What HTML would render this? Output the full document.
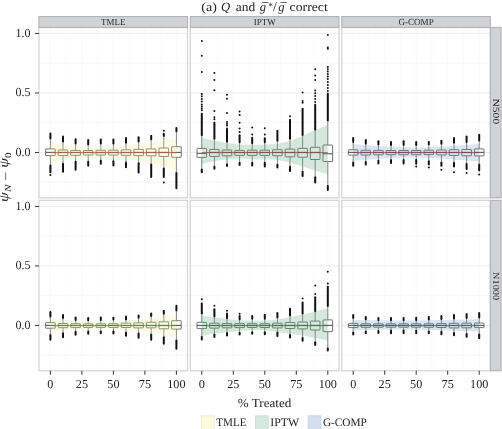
<!DOCTYPE html>
<html><head><meta charset="utf-8"><style>
html,body{margin:0;padding:0;background:#fff;}
body{width:502px;height:429px;overflow:hidden;position:relative;}
svg text{font-family:"Liberation Serif",serif;text-rendering:geometricPrecision;}
svg{will-change:transform;filter:blur(0.3px);}
</style></head><body>
<svg width="502" height="429" viewBox="0 0 502 429" style="position:absolute;left:0;top:0">
<rect x="0" y="0" width="502" height="429" fill="#fff"/>
<g>
<line x1="66.15" x2="66.15" y1="27.45" y2="197.85" stroke="#fafafa" stroke-width="0.8"/>
<line x1="97.65" x2="97.65" y1="27.45" y2="197.85" stroke="#fafafa" stroke-width="0.8"/>
<line x1="129.15" x2="129.15" y1="27.45" y2="197.85" stroke="#fafafa" stroke-width="0.8"/>
<line x1="160.65" x2="160.65" y1="27.45" y2="197.85" stroke="#fafafa" stroke-width="0.8"/>
<line x1="50.4" x2="50.4" y1="27.45" y2="197.85" stroke="#f7f7f7" stroke-width="0.8"/>
<line x1="81.9" x2="81.9" y1="27.45" y2="197.85" stroke="#f7f7f7" stroke-width="0.8"/>
<line x1="113.4" x2="113.4" y1="27.45" y2="197.85" stroke="#f7f7f7" stroke-width="0.8"/>
<line x1="144.9" x2="144.9" y1="27.45" y2="197.85" stroke="#f7f7f7" stroke-width="0.8"/>
<line x1="176.4" x2="176.4" y1="27.45" y2="197.85" stroke="#f7f7f7" stroke-width="0.8"/>
<line x1="38.95" x2="187.55" y1="63.2" y2="63.2" stroke="#f4f4f4" stroke-width="0.8"/>
<line x1="38.95" x2="187.55" y1="122.7" y2="122.7" stroke="#f4f4f4" stroke-width="0.8"/>
<line x1="38.95" x2="187.55" y1="182.2" y2="182.2" stroke="#f4f4f4" stroke-width="0.8"/>
<line x1="38.95" x2="187.55" y1="33.45" y2="33.45" stroke="#ebebeb" stroke-width="0.9"/>
<line x1="38.95" x2="187.55" y1="92.95" y2="92.95" stroke="#ebebeb" stroke-width="0.9"/>
<line x1="38.95" x2="187.55" y1="152.45" y2="152.45" stroke="#ebebeb" stroke-width="0.9"/>
</g>
<g>
<line x1="217.55" x2="217.55" y1="27.45" y2="197.85" stroke="#fafafa" stroke-width="0.8"/>
<line x1="249.05" x2="249.05" y1="27.45" y2="197.85" stroke="#fafafa" stroke-width="0.8"/>
<line x1="280.55" x2="280.55" y1="27.45" y2="197.85" stroke="#fafafa" stroke-width="0.8"/>
<line x1="312.05" x2="312.05" y1="27.45" y2="197.85" stroke="#fafafa" stroke-width="0.8"/>
<line x1="201.8" x2="201.8" y1="27.45" y2="197.85" stroke="#f7f7f7" stroke-width="0.8"/>
<line x1="233.3" x2="233.3" y1="27.45" y2="197.85" stroke="#f7f7f7" stroke-width="0.8"/>
<line x1="264.8" x2="264.8" y1="27.45" y2="197.85" stroke="#f7f7f7" stroke-width="0.8"/>
<line x1="296.3" x2="296.3" y1="27.45" y2="197.85" stroke="#f7f7f7" stroke-width="0.8"/>
<line x1="327.8" x2="327.8" y1="27.45" y2="197.85" stroke="#f7f7f7" stroke-width="0.8"/>
<line x1="190.35" x2="338.95" y1="63.2" y2="63.2" stroke="#f4f4f4" stroke-width="0.8"/>
<line x1="190.35" x2="338.95" y1="122.7" y2="122.7" stroke="#f4f4f4" stroke-width="0.8"/>
<line x1="190.35" x2="338.95" y1="182.2" y2="182.2" stroke="#f4f4f4" stroke-width="0.8"/>
<line x1="190.35" x2="338.95" y1="33.45" y2="33.45" stroke="#ebebeb" stroke-width="0.9"/>
<line x1="190.35" x2="338.95" y1="92.95" y2="92.95" stroke="#ebebeb" stroke-width="0.9"/>
<line x1="190.35" x2="338.95" y1="152.45" y2="152.45" stroke="#ebebeb" stroke-width="0.9"/>
</g>
<g>
<line x1="368.95" x2="368.95" y1="27.45" y2="197.85" stroke="#fafafa" stroke-width="0.8"/>
<line x1="400.45" x2="400.45" y1="27.45" y2="197.85" stroke="#fafafa" stroke-width="0.8"/>
<line x1="431.95" x2="431.95" y1="27.45" y2="197.85" stroke="#fafafa" stroke-width="0.8"/>
<line x1="463.45" x2="463.45" y1="27.45" y2="197.85" stroke="#fafafa" stroke-width="0.8"/>
<line x1="353.2" x2="353.2" y1="27.45" y2="197.85" stroke="#f7f7f7" stroke-width="0.8"/>
<line x1="384.7" x2="384.7" y1="27.45" y2="197.85" stroke="#f7f7f7" stroke-width="0.8"/>
<line x1="416.2" x2="416.2" y1="27.45" y2="197.85" stroke="#f7f7f7" stroke-width="0.8"/>
<line x1="447.7" x2="447.7" y1="27.45" y2="197.85" stroke="#f7f7f7" stroke-width="0.8"/>
<line x1="479.2" x2="479.2" y1="27.45" y2="197.85" stroke="#f7f7f7" stroke-width="0.8"/>
<line x1="341.75" x2="490.35" y1="63.2" y2="63.2" stroke="#f4f4f4" stroke-width="0.8"/>
<line x1="341.75" x2="490.35" y1="122.7" y2="122.7" stroke="#f4f4f4" stroke-width="0.8"/>
<line x1="341.75" x2="490.35" y1="182.2" y2="182.2" stroke="#f4f4f4" stroke-width="0.8"/>
<line x1="341.75" x2="490.35" y1="33.45" y2="33.45" stroke="#ebebeb" stroke-width="0.9"/>
<line x1="341.75" x2="490.35" y1="92.95" y2="92.95" stroke="#ebebeb" stroke-width="0.9"/>
<line x1="341.75" x2="490.35" y1="152.45" y2="152.45" stroke="#ebebeb" stroke-width="0.9"/>
</g>
<g>
<line x1="66.15" x2="66.15" y1="200.35" y2="370.75" stroke="#fafafa" stroke-width="0.8"/>
<line x1="97.65" x2="97.65" y1="200.35" y2="370.75" stroke="#fafafa" stroke-width="0.8"/>
<line x1="129.15" x2="129.15" y1="200.35" y2="370.75" stroke="#fafafa" stroke-width="0.8"/>
<line x1="160.65" x2="160.65" y1="200.35" y2="370.75" stroke="#fafafa" stroke-width="0.8"/>
<line x1="50.4" x2="50.4" y1="200.35" y2="370.75" stroke="#f7f7f7" stroke-width="0.8"/>
<line x1="81.9" x2="81.9" y1="200.35" y2="370.75" stroke="#f7f7f7" stroke-width="0.8"/>
<line x1="113.4" x2="113.4" y1="200.35" y2="370.75" stroke="#f7f7f7" stroke-width="0.8"/>
<line x1="144.9" x2="144.9" y1="200.35" y2="370.75" stroke="#f7f7f7" stroke-width="0.8"/>
<line x1="176.4" x2="176.4" y1="200.35" y2="370.75" stroke="#f7f7f7" stroke-width="0.8"/>
<line x1="38.95" x2="187.55" y1="236.2" y2="236.2" stroke="#f4f4f4" stroke-width="0.8"/>
<line x1="38.95" x2="187.55" y1="295.7" y2="295.7" stroke="#f4f4f4" stroke-width="0.8"/>
<line x1="38.95" x2="187.55" y1="355.2" y2="355.2" stroke="#f4f4f4" stroke-width="0.8"/>
<line x1="38.95" x2="187.55" y1="206.45" y2="206.45" stroke="#ebebeb" stroke-width="0.9"/>
<line x1="38.95" x2="187.55" y1="265.95" y2="265.95" stroke="#ebebeb" stroke-width="0.9"/>
<line x1="38.95" x2="187.55" y1="325.45" y2="325.45" stroke="#ebebeb" stroke-width="0.9"/>
</g>
<g>
<line x1="217.55" x2="217.55" y1="200.35" y2="370.75" stroke="#fafafa" stroke-width="0.8"/>
<line x1="249.05" x2="249.05" y1="200.35" y2="370.75" stroke="#fafafa" stroke-width="0.8"/>
<line x1="280.55" x2="280.55" y1="200.35" y2="370.75" stroke="#fafafa" stroke-width="0.8"/>
<line x1="312.05" x2="312.05" y1="200.35" y2="370.75" stroke="#fafafa" stroke-width="0.8"/>
<line x1="201.8" x2="201.8" y1="200.35" y2="370.75" stroke="#f7f7f7" stroke-width="0.8"/>
<line x1="233.3" x2="233.3" y1="200.35" y2="370.75" stroke="#f7f7f7" stroke-width="0.8"/>
<line x1="264.8" x2="264.8" y1="200.35" y2="370.75" stroke="#f7f7f7" stroke-width="0.8"/>
<line x1="296.3" x2="296.3" y1="200.35" y2="370.75" stroke="#f7f7f7" stroke-width="0.8"/>
<line x1="327.8" x2="327.8" y1="200.35" y2="370.75" stroke="#f7f7f7" stroke-width="0.8"/>
<line x1="190.35" x2="338.95" y1="236.2" y2="236.2" stroke="#f4f4f4" stroke-width="0.8"/>
<line x1="190.35" x2="338.95" y1="295.7" y2="295.7" stroke="#f4f4f4" stroke-width="0.8"/>
<line x1="190.35" x2="338.95" y1="355.2" y2="355.2" stroke="#f4f4f4" stroke-width="0.8"/>
<line x1="190.35" x2="338.95" y1="206.45" y2="206.45" stroke="#ebebeb" stroke-width="0.9"/>
<line x1="190.35" x2="338.95" y1="265.95" y2="265.95" stroke="#ebebeb" stroke-width="0.9"/>
<line x1="190.35" x2="338.95" y1="325.45" y2="325.45" stroke="#ebebeb" stroke-width="0.9"/>
</g>
<g>
<line x1="368.95" x2="368.95" y1="200.35" y2="370.75" stroke="#fafafa" stroke-width="0.8"/>
<line x1="400.45" x2="400.45" y1="200.35" y2="370.75" stroke="#fafafa" stroke-width="0.8"/>
<line x1="431.95" x2="431.95" y1="200.35" y2="370.75" stroke="#fafafa" stroke-width="0.8"/>
<line x1="463.45" x2="463.45" y1="200.35" y2="370.75" stroke="#fafafa" stroke-width="0.8"/>
<line x1="353.2" x2="353.2" y1="200.35" y2="370.75" stroke="#f7f7f7" stroke-width="0.8"/>
<line x1="384.7" x2="384.7" y1="200.35" y2="370.75" stroke="#f7f7f7" stroke-width="0.8"/>
<line x1="416.2" x2="416.2" y1="200.35" y2="370.75" stroke="#f7f7f7" stroke-width="0.8"/>
<line x1="447.7" x2="447.7" y1="200.35" y2="370.75" stroke="#f7f7f7" stroke-width="0.8"/>
<line x1="479.2" x2="479.2" y1="200.35" y2="370.75" stroke="#f7f7f7" stroke-width="0.8"/>
<line x1="341.75" x2="490.35" y1="236.2" y2="236.2" stroke="#f4f4f4" stroke-width="0.8"/>
<line x1="341.75" x2="490.35" y1="295.7" y2="295.7" stroke="#f4f4f4" stroke-width="0.8"/>
<line x1="341.75" x2="490.35" y1="355.2" y2="355.2" stroke="#f4f4f4" stroke-width="0.8"/>
<line x1="341.75" x2="490.35" y1="206.45" y2="206.45" stroke="#ebebeb" stroke-width="0.9"/>
<line x1="341.75" x2="490.35" y1="265.95" y2="265.95" stroke="#ebebeb" stroke-width="0.9"/>
<line x1="341.75" x2="490.35" y1="325.45" y2="325.45" stroke="#ebebeb" stroke-width="0.9"/>
</g>
<g>
<line x1="50.4" x2="50.4" y1="139.3" y2="148.9" stroke="#777" stroke-width="0.9"/>
<line x1="50.4" x2="50.4" y1="155.6" y2="164.8" stroke="#777" stroke-width="0.9"/>
<rect x="45.6" y="148.9" width="9.6" height="6.7" rx="0.3" fill="#fff" stroke="#6e6e6e" stroke-width="0.95"/>
<line x1="45.6" x2="55.2" y1="152.35" y2="152.35" stroke="#444" stroke-width="1"/>
<line x1="50.4" x2="50.4" y1="133.5" y2="138.5" stroke="#111" stroke-width="2.0" stroke-linecap="round"/>
<line x1="50.4" x2="50.4" y1="165.6" y2="172.2" stroke="#111" stroke-width="2.0" stroke-linecap="round"/>
<circle cx="50.4" cy="175" r="1.0" fill="#111"/>
<line x1="63" x2="63" y1="142.2" y2="150" stroke="#777" stroke-width="0.9"/>
<line x1="63" x2="63" y1="155.6" y2="163" stroke="#777" stroke-width="0.9"/>
<rect x="58.2" y="150" width="9.6" height="5.6" rx="0.3" fill="#fff" stroke="#6e6e6e" stroke-width="0.95"/>
<line x1="58.2" x2="67.8" y1="152.35" y2="152.35" stroke="#444" stroke-width="1"/>
<line x1="63" x2="63" y1="136.6" y2="141.4" stroke="#111" stroke-width="2.0" stroke-linecap="round"/>
<line x1="63" x2="63" y1="163.8" y2="171.7" stroke="#111" stroke-width="2.0" stroke-linecap="round"/>
<line x1="75.6" x2="75.6" y1="144.4" y2="150.4" stroke="#777" stroke-width="0.9"/>
<line x1="75.6" x2="75.6" y1="155.3" y2="160.9" stroke="#777" stroke-width="0.9"/>
<rect x="70.8" y="150.4" width="9.6" height="4.9" rx="0.3" fill="#fff" stroke="#6e6e6e" stroke-width="0.95"/>
<line x1="70.8" x2="80.4" y1="152.35" y2="152.35" stroke="#444" stroke-width="1"/>
<line x1="75.6" x2="75.6" y1="139.3" y2="143.6" stroke="#111" stroke-width="2.0" stroke-linecap="round"/>
<line x1="75.6" x2="75.6" y1="161.7" y2="169.8" stroke="#111" stroke-width="2.0" stroke-linecap="round"/>
<line x1="88.2" x2="88.2" y1="145.2" y2="150.5" stroke="#777" stroke-width="0.9"/>
<line x1="88.2" x2="88.2" y1="155" y2="160.9" stroke="#777" stroke-width="0.9"/>
<rect x="83.4" y="150.5" width="9.6" height="4.5" rx="0.3" fill="#fff" stroke="#6e6e6e" stroke-width="0.95"/>
<line x1="83.4" x2="93" y1="152.35" y2="152.35" stroke="#444" stroke-width="1"/>
<line x1="88.2" x2="88.2" y1="140" y2="144.4" stroke="#111" stroke-width="2.0" stroke-linecap="round"/>
<line x1="88.2" x2="88.2" y1="161.7" y2="165.7" stroke="#111" stroke-width="2.0" stroke-linecap="round"/>
<line x1="100.8" x2="100.8" y1="144.2" y2="150.3" stroke="#777" stroke-width="0.9"/>
<line x1="100.8" x2="100.8" y1="155" y2="160" stroke="#777" stroke-width="0.9"/>
<rect x="96" y="150.3" width="9.6" height="4.7" rx="0.3" fill="#fff" stroke="#6e6e6e" stroke-width="0.95"/>
<line x1="96" x2="105.6" y1="152.35" y2="152.35" stroke="#444" stroke-width="1"/>
<line x1="100.8" x2="100.8" y1="139.6" y2="143.4" stroke="#111" stroke-width="2.0" stroke-linecap="round"/>
<line x1="100.8" x2="100.8" y1="160.8" y2="163.8" stroke="#111" stroke-width="2.0" stroke-linecap="round"/>
<line x1="113.4" x2="113.4" y1="144.2" y2="150.2" stroke="#777" stroke-width="0.9"/>
<line x1="113.4" x2="113.4" y1="155.1" y2="160.5" stroke="#777" stroke-width="0.9"/>
<rect x="108.6" y="150.2" width="9.6" height="4.9" rx="0.3" fill="#fff" stroke="#6e6e6e" stroke-width="0.95"/>
<line x1="108.6" x2="118.2" y1="152.35" y2="152.35" stroke="#444" stroke-width="1"/>
<line x1="113.4" x2="113.4" y1="139.6" y2="143.4" stroke="#111" stroke-width="2.0" stroke-linecap="round"/>
<line x1="113.4" x2="113.4" y1="161.3" y2="165.6" stroke="#111" stroke-width="2.0" stroke-linecap="round"/>
<line x1="126" x2="126" y1="143.5" y2="149.8" stroke="#777" stroke-width="0.9"/>
<line x1="126" x2="126" y1="155.3" y2="161.8" stroke="#777" stroke-width="0.9"/>
<rect x="121.2" y="149.8" width="9.6" height="5.5" rx="0.3" fill="#fff" stroke="#6e6e6e" stroke-width="0.95"/>
<line x1="121.2" x2="130.8" y1="152.35" y2="152.35" stroke="#444" stroke-width="1"/>
<line x1="126" x2="126" y1="138" y2="142.7" stroke="#111" stroke-width="2.0" stroke-linecap="round"/>
<line x1="126" x2="126" y1="162.6" y2="167.3" stroke="#111" stroke-width="2.0" stroke-linecap="round"/>
<line x1="138.6" x2="138.6" y1="142.4" y2="149.4" stroke="#777" stroke-width="0.9"/>
<line x1="138.6" x2="138.6" y1="155.6" y2="162.5" stroke="#777" stroke-width="0.9"/>
<rect x="133.8" y="149.4" width="9.6" height="6.2" rx="0.3" fill="#fff" stroke="#6e6e6e" stroke-width="0.95"/>
<line x1="133.8" x2="143.4" y1="152.35" y2="152.35" stroke="#444" stroke-width="1"/>
<line x1="138.6" x2="138.6" y1="137.2" y2="141.6" stroke="#111" stroke-width="2.0" stroke-linecap="round"/>
<line x1="138.6" x2="138.6" y1="163.3" y2="172.4" stroke="#111" stroke-width="2.0" stroke-linecap="round"/>
<line x1="151.2" x2="151.2" y1="140.1" y2="148.9" stroke="#777" stroke-width="0.9"/>
<line x1="151.2" x2="151.2" y1="155.8" y2="163.8" stroke="#777" stroke-width="0.9"/>
<rect x="146.4" y="148.9" width="9.6" height="6.9" rx="0.3" fill="#fff" stroke="#6e6e6e" stroke-width="0.95"/>
<line x1="146.4" x2="156" y1="152.35" y2="152.35" stroke="#444" stroke-width="1"/>
<line x1="151.2" x2="151.2" y1="135.7" y2="139.3" stroke="#111" stroke-width="2.0" stroke-linecap="round"/>
<line x1="151.2" x2="151.2" y1="164.6" y2="177" stroke="#111" stroke-width="2.0" stroke-linecap="round"/>
<line x1="163.8" x2="163.8" y1="136.8" y2="148" stroke="#777" stroke-width="0.9"/>
<line x1="163.8" x2="163.8" y1="156.4" y2="167.6" stroke="#777" stroke-width="0.9"/>
<rect x="159" y="148" width="9.6" height="8.4" rx="0.3" fill="#fff" stroke="#6e6e6e" stroke-width="0.95"/>
<line x1="159" x2="168.6" y1="152.35" y2="152.35" stroke="#444" stroke-width="1"/>
<line x1="163.8" x2="163.8" y1="133.8" y2="136" stroke="#111" stroke-width="2.0" stroke-linecap="round"/>
<line x1="163.8" x2="163.8" y1="168.4" y2="177" stroke="#111" stroke-width="2.0" stroke-linecap="round"/>
<circle cx="163.8" cy="130.8" r="1.0" fill="#111"/>
<circle cx="163.8" cy="182.5" r="1.0" fill="#111"/>
<line x1="176.4" x2="176.4" y1="132.1" y2="146.7" stroke="#777" stroke-width="0.9"/>
<line x1="176.4" x2="176.4" y1="157.3" y2="172.2" stroke="#777" stroke-width="0.9"/>
<rect x="171.6" y="146.7" width="9.6" height="10.6" rx="0.3" fill="#fff" stroke="#6e6e6e" stroke-width="0.95"/>
<line x1="171.6" x2="181.2" y1="152.35" y2="152.35" stroke="#444" stroke-width="1"/>
<line x1="176.4" x2="176.4" y1="127.9" y2="131.3" stroke="#111" stroke-width="2.0" stroke-linecap="round"/>
<line x1="176.4" x2="176.4" y1="173" y2="188.2" stroke="#111" stroke-width="2.0" stroke-linecap="round"/>
<line x1="50.4" x2="176.4" y1="152.65" y2="152.65" stroke="#a82a22" stroke-width="0.8"/>
<polygon points="50.4,143 63,145 75.6,146.2 88.2,147 100.8,147.15 113.4,147.15 126,146.15 138.6,143.85 151.2,142.1 163.8,140.45 176.4,138.9 176.4,169.8 163.8,166.45 151.2,163.5 138.6,161.35 126,159.05 113.4,158.05 100.8,158.05 88.2,158.1 75.6,158.9 63,159.9 50.4,161.9" fill="#f3ef87" fill-opacity="0.22"/>
</g>
<g>
<line x1="201.8" x2="201.8" y1="136" y2="148.4" stroke="#777" stroke-width="0.9"/>
<line x1="201.8" x2="201.8" y1="157.4" y2="168.6" stroke="#777" stroke-width="0.9"/>
<rect x="197" y="148.4" width="9.6" height="9" rx="0.3" fill="#fff" stroke="#6e6e6e" stroke-width="0.95"/>
<line x1="197" x2="206.6" y1="153.3" y2="153.3" stroke="#444" stroke-width="1"/>
<line x1="201.8" x2="201.8" y1="113.8" y2="135.2" stroke="#111" stroke-width="2.0" stroke-linecap="round"/>
<line x1="201.8" x2="201.8" y1="169.4" y2="172.2" stroke="#111" stroke-width="2.0" stroke-linecap="round"/>
<circle cx="201.8" cy="40.9" r="1.0" fill="#111"/>
<circle cx="201.8" cy="55.7" r="1.0" fill="#111"/>
<circle cx="201.8" cy="72.1" r="1.0" fill="#111"/>
<circle cx="201.8" cy="94.1" r="1.0" fill="#111"/>
<circle cx="201.8" cy="96.2" r="1.0" fill="#111"/>
<circle cx="201.8" cy="99" r="1.0" fill="#111"/>
<circle cx="201.8" cy="101.5" r="1.0" fill="#111"/>
<circle cx="201.8" cy="104.6" r="1.0" fill="#111"/>
<circle cx="201.8" cy="106.5" r="1.0" fill="#111"/>
<circle cx="201.8" cy="108.4" r="1.0" fill="#111"/>
<circle cx="201.8" cy="110.2" r="1.0" fill="#111"/>
<line x1="214.4" x2="214.4" y1="139.5" y2="149.4" stroke="#777" stroke-width="0.9"/>
<line x1="214.4" x2="214.4" y1="156.4" y2="165.9" stroke="#777" stroke-width="0.9"/>
<rect x="209.6" y="149.4" width="9.6" height="7" rx="0.3" fill="#fff" stroke="#6e6e6e" stroke-width="0.95"/>
<line x1="209.6" x2="219.2" y1="152.35" y2="152.35" stroke="#444" stroke-width="1"/>
<line x1="214.4" x2="214.4" y1="122.8" y2="138.7" stroke="#111" stroke-width="2.0" stroke-linecap="round"/>
<line x1="214.4" x2="214.4" y1="166.7" y2="168.7" stroke="#111" stroke-width="2.0" stroke-linecap="round"/>
<circle cx="214.4" cy="72.9" r="1.0" fill="#111"/>
<circle cx="214.4" cy="80" r="1.0" fill="#111"/>
<circle cx="214.4" cy="90.3" r="1.0" fill="#111"/>
<circle cx="214.4" cy="110.9" r="1.0" fill="#111"/>
<circle cx="214.4" cy="117.2" r="1.0" fill="#111"/>
<circle cx="214.4" cy="119.3" r="1.0" fill="#111"/>
<line x1="227" x2="227" y1="142.5" y2="150" stroke="#777" stroke-width="0.9"/>
<line x1="227" x2="227" y1="155.8" y2="163.4" stroke="#777" stroke-width="0.9"/>
<rect x="222.2" y="150" width="9.6" height="5.8" rx="0.3" fill="#fff" stroke="#6e6e6e" stroke-width="0.95"/>
<line x1="222.2" x2="231.8" y1="152.35" y2="152.35" stroke="#444" stroke-width="1"/>
<line x1="227" x2="227" y1="128.5" y2="141.7" stroke="#111" stroke-width="2.0" stroke-linecap="round"/>
<line x1="227" x2="227" y1="164.2" y2="166.1" stroke="#111" stroke-width="2.0" stroke-linecap="round"/>
<circle cx="227" cy="94.8" r="1.0" fill="#111"/>
<circle cx="227" cy="98.7" r="1.0" fill="#111"/>
<circle cx="227" cy="113" r="1.0" fill="#111"/>
<circle cx="227" cy="122" r="1.0" fill="#111"/>
<circle cx="227" cy="124" r="1.0" fill="#111"/>
<circle cx="227" cy="125.6" r="1.0" fill="#111"/>
<line x1="239.6" x2="239.6" y1="143" y2="150.4" stroke="#777" stroke-width="0.9"/>
<line x1="239.6" x2="239.6" y1="155.4" y2="161.9" stroke="#777" stroke-width="0.9"/>
<rect x="234.8" y="150.4" width="9.6" height="5" rx="0.3" fill="#fff" stroke="#6e6e6e" stroke-width="0.95"/>
<line x1="234.8" x2="244.4" y1="152.35" y2="152.35" stroke="#444" stroke-width="1"/>
<line x1="239.6" x2="239.6" y1="135.3" y2="142.2" stroke="#111" stroke-width="2.0" stroke-linecap="round"/>
<line x1="239.6" x2="239.6" y1="162.7" y2="164.9" stroke="#111" stroke-width="2.0" stroke-linecap="round"/>
<circle cx="239.6" cy="111.6" r="1.0" fill="#111"/>
<circle cx="239.6" cy="115.1" r="1.0" fill="#111"/>
<circle cx="239.6" cy="122.8" r="1.0" fill="#111"/>
<circle cx="239.6" cy="128.5" r="1.0" fill="#111"/>
<circle cx="239.6" cy="132" r="1.0" fill="#111"/>
<line x1="252.2" x2="252.2" y1="144" y2="150.2" stroke="#777" stroke-width="0.9"/>
<line x1="252.2" x2="252.2" y1="155.4" y2="161.9" stroke="#777" stroke-width="0.9"/>
<rect x="247.4" y="150.2" width="9.6" height="5.2" rx="0.3" fill="#fff" stroke="#6e6e6e" stroke-width="0.95"/>
<line x1="247.4" x2="257" y1="152.35" y2="152.35" stroke="#444" stroke-width="1"/>
<line x1="252.2" x2="252.2" y1="137.8" y2="143.2" stroke="#111" stroke-width="2.0" stroke-linecap="round"/>
<line x1="252.2" x2="252.2" y1="162.7" y2="165.6" stroke="#111" stroke-width="2.0" stroke-linecap="round"/>
<circle cx="252.2" cy="127.5" r="1.0" fill="#111"/>
<circle cx="252.2" cy="134.5" r="1.0" fill="#111"/>
<line x1="264.8" x2="264.8" y1="143" y2="150.2" stroke="#777" stroke-width="0.9"/>
<line x1="264.8" x2="264.8" y1="155.4" y2="161.9" stroke="#777" stroke-width="0.9"/>
<rect x="260" y="150.2" width="9.6" height="5.2" rx="0.3" fill="#fff" stroke="#6e6e6e" stroke-width="0.95"/>
<line x1="260" x2="269.6" y1="152.35" y2="152.35" stroke="#444" stroke-width="1"/>
<line x1="264.8" x2="264.8" y1="138.3" y2="142.2" stroke="#111" stroke-width="2.0" stroke-linecap="round"/>
<line x1="264.8" x2="264.8" y1="162.7" y2="166.6" stroke="#111" stroke-width="2.0" stroke-linecap="round"/>
<circle cx="264.8" cy="128.2" r="1.0" fill="#111"/>
<circle cx="264.8" cy="134.5" r="1.0" fill="#111"/>
<line x1="277.4" x2="277.4" y1="141.5" y2="149.7" stroke="#777" stroke-width="0.9"/>
<line x1="277.4" x2="277.4" y1="155.7" y2="163.9" stroke="#777" stroke-width="0.9"/>
<rect x="272.6" y="149.7" width="9.6" height="6" rx="0.3" fill="#fff" stroke="#6e6e6e" stroke-width="0.95"/>
<line x1="272.6" x2="282.2" y1="152.35" y2="152.35" stroke="#444" stroke-width="1"/>
<line x1="277.4" x2="277.4" y1="130.7" y2="140.7" stroke="#111" stroke-width="2.0" stroke-linecap="round"/>
<line x1="277.4" x2="277.4" y1="164.7" y2="167.5" stroke="#111" stroke-width="2.0" stroke-linecap="round"/>
<line x1="290" x2="290" y1="139.5" y2="149.1" stroke="#777" stroke-width="0.9"/>
<line x1="290" x2="290" y1="156.8" y2="165.9" stroke="#777" stroke-width="0.9"/>
<rect x="285.2" y="149.1" width="9.6" height="7.7" rx="0.3" fill="#fff" stroke="#6e6e6e" stroke-width="0.95"/>
<line x1="285.2" x2="294.8" y1="152.35" y2="152.35" stroke="#444" stroke-width="1"/>
<line x1="290" x2="290" y1="119.8" y2="138.7" stroke="#111" stroke-width="2.0" stroke-linecap="round"/>
<line x1="290" x2="290" y1="166.7" y2="171.1" stroke="#111" stroke-width="2.0" stroke-linecap="round"/>
<circle cx="290" cy="116.2" r="1.0" fill="#111"/>
<line x1="302.6" x2="302.6" y1="135.9" y2="148.4" stroke="#777" stroke-width="0.9"/>
<line x1="302.6" x2="302.6" y1="157.2" y2="170.9" stroke="#777" stroke-width="0.9"/>
<rect x="297.8" y="148.4" width="9.6" height="8.8" rx="0.3" fill="#fff" stroke="#6e6e6e" stroke-width="0.95"/>
<line x1="297.8" x2="307.4" y1="152.35" y2="152.35" stroke="#444" stroke-width="1"/>
<line x1="302.6" x2="302.6" y1="108.8" y2="135.1" stroke="#111" stroke-width="2.0" stroke-linecap="round"/>
<line x1="302.6" x2="302.6" y1="171.7" y2="176.1" stroke="#111" stroke-width="2.0" stroke-linecap="round"/>
<circle cx="302.6" cy="92.5" r="1.0" fill="#111"/>
<circle cx="302.6" cy="101.1" r="1.0" fill="#111"/>
<circle cx="302.6" cy="102.7" r="1.0" fill="#111"/>
<line x1="315.2" x2="315.2" y1="130.6" y2="147.3" stroke="#777" stroke-width="0.9"/>
<line x1="315.2" x2="315.2" y1="159.5" y2="176.4" stroke="#777" stroke-width="0.9"/>
<rect x="310.4" y="147.3" width="9.6" height="12.2" rx="0.3" fill="#fff" stroke="#6e6e6e" stroke-width="0.95"/>
<line x1="310.4" x2="320" y1="152.35" y2="152.35" stroke="#444" stroke-width="1"/>
<line x1="315.2" x2="315.2" y1="104.8" y2="129.8" stroke="#111" stroke-width="2.0" stroke-linecap="round"/>
<line x1="315.2" x2="315.2" y1="177.2" y2="182.6" stroke="#111" stroke-width="2.0" stroke-linecap="round"/>
<circle cx="315.2" cy="69.2" r="1.0" fill="#111"/>
<circle cx="315.2" cy="75.5" r="1.0" fill="#111"/>
<circle cx="315.2" cy="80.1" r="1.0" fill="#111"/>
<circle cx="315.2" cy="90.6" r="1.0" fill="#111"/>
<circle cx="315.2" cy="93.2" r="1.0" fill="#111"/>
<circle cx="315.2" cy="96" r="1.0" fill="#111"/>
<circle cx="315.2" cy="99" r="1.0" fill="#111"/>
<circle cx="315.2" cy="102" r="1.0" fill="#111"/>
<line x1="327.8" x2="327.8" y1="121.4" y2="145" stroke="#777" stroke-width="0.9"/>
<line x1="327.8" x2="327.8" y1="161.5" y2="185.1" stroke="#777" stroke-width="0.9"/>
<rect x="323" y="145" width="9.6" height="16.5" rx="0.3" fill="#fff" stroke="#6e6e6e" stroke-width="0.95"/>
<line x1="323" x2="332.6" y1="153.8" y2="153.8" stroke="#444" stroke-width="1"/>
<line x1="327.8" x2="327.8" y1="93.8" y2="120.6" stroke="#111" stroke-width="2.0" stroke-linecap="round"/>
<line x1="327.8" x2="327.8" y1="185.9" y2="189.9" stroke="#111" stroke-width="2.0" stroke-linecap="round"/>
<circle cx="327.8" cy="35.1" r="1.0" fill="#111"/>
<circle cx="327.8" cy="47.5" r="1.0" fill="#111"/>
<circle cx="327.8" cy="48.8" r="1.0" fill="#111"/>
<circle cx="327.8" cy="67" r="1.0" fill="#111"/>
<circle cx="327.8" cy="69.3" r="1.0" fill="#111"/>
<circle cx="327.8" cy="71.5" r="1.0" fill="#111"/>
<circle cx="327.8" cy="74" r="1.0" fill="#111"/>
<circle cx="327.8" cy="76.5" r="1.0" fill="#111"/>
<circle cx="327.8" cy="79" r="1.0" fill="#111"/>
<circle cx="327.8" cy="82" r="1.0" fill="#111"/>
<circle cx="327.8" cy="85" r="1.0" fill="#111"/>
<circle cx="327.8" cy="88" r="1.0" fill="#111"/>
<circle cx="327.8" cy="91" r="1.0" fill="#111"/>
<line x1="201.8" x2="327.8" y1="152.65" y2="152.65" stroke="#a82a22" stroke-width="0.8"/>
<polygon points="201.8,137.8 214.4,140.8 227,142.9 239.6,144.4 252.2,144.85 264.8,144.85 277.4,143.85 290,141.15 302.6,136.1 315.2,130.1 327.8,124.9 327.8,174.4 315.2,170.4 302.6,166.4 290,162.5 277.4,159.85 264.8,159.35 252.2,159.25 239.6,158.4 227,159.4 214.4,160.9 201.8,163.9" fill="#5ba37b" fill-opacity="0.25"/>
</g>
<g>
<line x1="353.2" x2="353.2" y1="142.8" y2="149.8" stroke="#777" stroke-width="0.9"/>
<line x1="353.2" x2="353.2" y1="155.1" y2="161.6" stroke="#777" stroke-width="0.9"/>
<rect x="348.4" y="149.8" width="9.6" height="5.3" rx="0.3" fill="#fff" stroke="#6e6e6e" stroke-width="0.95"/>
<line x1="348.4" x2="358" y1="152.35" y2="152.35" stroke="#444" stroke-width="1"/>
<line x1="353.2" x2="353.2" y1="137.9" y2="142" stroke="#111" stroke-width="2.0" stroke-linecap="round"/>
<line x1="353.2" x2="353.2" y1="162.4" y2="165.7" stroke="#111" stroke-width="2.0" stroke-linecap="round"/>
<line x1="365.8" x2="365.8" y1="144.5" y2="150.3" stroke="#777" stroke-width="0.9"/>
<line x1="365.8" x2="365.8" y1="155" y2="161.1" stroke="#777" stroke-width="0.9"/>
<rect x="361" y="150.3" width="9.6" height="4.7" rx="0.3" fill="#fff" stroke="#6e6e6e" stroke-width="0.95"/>
<line x1="361" x2="370.6" y1="152.35" y2="152.35" stroke="#444" stroke-width="1"/>
<line x1="365.8" x2="365.8" y1="140" y2="143.7" stroke="#111" stroke-width="2.0" stroke-linecap="round"/>
<line x1="365.8" x2="365.8" y1="161.9" y2="164.5" stroke="#111" stroke-width="2.0" stroke-linecap="round"/>
<line x1="378.4" x2="378.4" y1="145.3" y2="150.4" stroke="#777" stroke-width="0.9"/>
<line x1="378.4" x2="378.4" y1="154.8" y2="160" stroke="#777" stroke-width="0.9"/>
<rect x="373.6" y="150.4" width="9.6" height="4.4" rx="0.3" fill="#fff" stroke="#6e6e6e" stroke-width="0.95"/>
<line x1="373.6" x2="383.2" y1="152.35" y2="152.35" stroke="#444" stroke-width="1"/>
<line x1="378.4" x2="378.4" y1="141.2" y2="144.5" stroke="#111" stroke-width="2.0" stroke-linecap="round"/>
<line x1="378.4" x2="378.4" y1="160.8" y2="163.5" stroke="#111" stroke-width="2.0" stroke-linecap="round"/>
<line x1="391" x2="391" y1="145.8" y2="150.5" stroke="#777" stroke-width="0.9"/>
<line x1="391" x2="391" y1="154.7" y2="159.1" stroke="#777" stroke-width="0.9"/>
<rect x="386.2" y="150.5" width="9.6" height="4.2" rx="0.3" fill="#fff" stroke="#6e6e6e" stroke-width="0.95"/>
<line x1="386.2" x2="395.8" y1="152.35" y2="152.35" stroke="#444" stroke-width="1"/>
<line x1="391" x2="391" y1="142" y2="145" stroke="#111" stroke-width="2.0" stroke-linecap="round"/>
<line x1="391" x2="391" y1="159.9" y2="162.9" stroke="#111" stroke-width="2.0" stroke-linecap="round"/>
<line x1="403.6" x2="403.6" y1="145.8" y2="150.5" stroke="#777" stroke-width="0.9"/>
<line x1="403.6" x2="403.6" y1="154.7" y2="159.1" stroke="#777" stroke-width="0.9"/>
<rect x="398.8" y="150.5" width="9.6" height="4.2" rx="0.3" fill="#fff" stroke="#6e6e6e" stroke-width="0.95"/>
<line x1="398.8" x2="408.4" y1="152.35" y2="152.35" stroke="#444" stroke-width="1"/>
<line x1="403.6" x2="403.6" y1="141.2" y2="145" stroke="#111" stroke-width="2.0" stroke-linecap="round"/>
<line x1="403.6" x2="403.6" y1="159.9" y2="163.5" stroke="#111" stroke-width="2.0" stroke-linecap="round"/>
<line x1="416.2" x2="416.2" y1="145.8" y2="150.5" stroke="#777" stroke-width="0.9"/>
<line x1="416.2" x2="416.2" y1="154.7" y2="159.1" stroke="#777" stroke-width="0.9"/>
<rect x="411.4" y="150.5" width="9.6" height="4.2" rx="0.3" fill="#fff" stroke="#6e6e6e" stroke-width="0.95"/>
<line x1="411.4" x2="421" y1="152.35" y2="152.35" stroke="#444" stroke-width="1"/>
<line x1="416.2" x2="416.2" y1="142" y2="145" stroke="#111" stroke-width="2.0" stroke-linecap="round"/>
<line x1="416.2" x2="416.2" y1="159.9" y2="163.7" stroke="#111" stroke-width="2.0" stroke-linecap="round"/>
<circle cx="416.2" cy="166.5" r="1.0" fill="#111"/>
<line x1="428.8" x2="428.8" y1="145.3" y2="150.2" stroke="#777" stroke-width="0.9"/>
<line x1="428.8" x2="428.8" y1="154.6" y2="160.4" stroke="#777" stroke-width="0.9"/>
<rect x="424" y="150.2" width="9.6" height="4.4" rx="0.3" fill="#fff" stroke="#6e6e6e" stroke-width="0.95"/>
<line x1="424" x2="433.6" y1="152.35" y2="152.35" stroke="#444" stroke-width="1"/>
<line x1="428.8" x2="428.8" y1="142" y2="144.5" stroke="#111" stroke-width="2.0" stroke-linecap="round"/>
<line x1="428.8" x2="428.8" y1="161.2" y2="164.5" stroke="#111" stroke-width="2.0" stroke-linecap="round"/>
<circle cx="428.8" cy="167.6" r="1.0" fill="#111"/>
<line x1="441.4" x2="441.4" y1="144.5" y2="150" stroke="#777" stroke-width="0.9"/>
<line x1="441.4" x2="441.4" y1="155" y2="161.6" stroke="#777" stroke-width="0.9"/>
<rect x="436.6" y="150" width="9.6" height="5" rx="0.3" fill="#fff" stroke="#6e6e6e" stroke-width="0.95"/>
<line x1="436.6" x2="446.2" y1="152.35" y2="152.35" stroke="#444" stroke-width="1"/>
<line x1="441.4" x2="441.4" y1="140.7" y2="143.7" stroke="#111" stroke-width="2.0" stroke-linecap="round"/>
<line x1="441.4" x2="441.4" y1="162.4" y2="165.7" stroke="#111" stroke-width="2.0" stroke-linecap="round"/>
<circle cx="441.4" cy="169.7" r="1.0" fill="#111"/>
<line x1="454" x2="454" y1="143.6" y2="149.7" stroke="#777" stroke-width="0.9"/>
<line x1="454" x2="454" y1="155.4" y2="162" stroke="#777" stroke-width="0.9"/>
<rect x="449.2" y="149.7" width="9.6" height="5.7" rx="0.3" fill="#fff" stroke="#6e6e6e" stroke-width="0.95"/>
<line x1="449.2" x2="458.8" y1="152.35" y2="152.35" stroke="#444" stroke-width="1"/>
<line x1="454" x2="454" y1="137.9" y2="142.8" stroke="#111" stroke-width="2.0" stroke-linecap="round"/>
<line x1="454" x2="454" y1="162.8" y2="166.5" stroke="#111" stroke-width="2.0" stroke-linecap="round"/>
<circle cx="454" cy="172.2" r="1.0" fill="#111"/>
<line x1="466.6" x2="466.6" y1="142.8" y2="149.5" stroke="#777" stroke-width="0.9"/>
<line x1="466.6" x2="466.6" y1="155.8" y2="163.2" stroke="#777" stroke-width="0.9"/>
<rect x="461.8" y="149.5" width="9.6" height="6.3" rx="0.3" fill="#fff" stroke="#6e6e6e" stroke-width="0.95"/>
<line x1="461.8" x2="471.4" y1="152.35" y2="152.35" stroke="#444" stroke-width="1"/>
<line x1="466.6" x2="466.6" y1="136.6" y2="142" stroke="#111" stroke-width="2.0" stroke-linecap="round"/>
<line x1="466.6" x2="466.6" y1="164" y2="168.9" stroke="#111" stroke-width="2.0" stroke-linecap="round"/>
<circle cx="466.6" cy="173" r="1.0" fill="#111"/>
<line x1="479.2" x2="479.2" y1="141.2" y2="148.9" stroke="#777" stroke-width="0.9"/>
<line x1="479.2" x2="479.2" y1="155.9" y2="164" stroke="#777" stroke-width="0.9"/>
<rect x="474.4" y="148.9" width="9.6" height="7" rx="0.3" fill="#fff" stroke="#6e6e6e" stroke-width="0.95"/>
<line x1="474.4" x2="484" y1="152.35" y2="152.35" stroke="#444" stroke-width="1"/>
<line x1="479.2" x2="479.2" y1="134.7" y2="140.4" stroke="#111" stroke-width="2.0" stroke-linecap="round"/>
<line x1="479.2" x2="479.2" y1="164.8" y2="170.6" stroke="#111" stroke-width="2.0" stroke-linecap="round"/>
<circle cx="479.2" cy="174.6" r="1.0" fill="#111"/>
<line x1="353.2" x2="479.2" y1="152.65" y2="152.65" stroke="#a82a22" stroke-width="0.8"/>
<polygon points="353.2,144.1 365.8,145.15 378.4,146.05 391,146.85 403.6,147.35 416.2,147.45 428.8,147.25 441.4,146.65 454,145.85 466.6,144.95 479.2,144.1 479.2,161.5 466.6,160.45 454,159.45 441.4,158.45 428.8,157.65 416.2,157.35 403.6,157.45 391,158.05 378.4,158.85 365.8,159.75 353.2,160.8" fill="#537bc3" fill-opacity="0.2"/>
</g>
<g>
<line x1="50.4" x2="50.4" y1="317.4" y2="322.6" stroke="#777" stroke-width="0.9"/>
<line x1="50.4" x2="50.4" y1="328.2" y2="334.1" stroke="#777" stroke-width="0.9"/>
<rect x="45.6" y="322.6" width="9.6" height="5.6" rx="0.3" fill="#fff" stroke="#6e6e6e" stroke-width="0.95"/>
<line x1="45.6" x2="55.2" y1="325.35" y2="325.35" stroke="#444" stroke-width="1"/>
<line x1="50.4" x2="50.4" y1="311.9" y2="316.6" stroke="#111" stroke-width="2.0" stroke-linecap="round"/>
<line x1="50.4" x2="50.4" y1="334.9" y2="339.8" stroke="#111" stroke-width="2.0" stroke-linecap="round"/>
<line x1="63" x2="63" y1="318.9" y2="323.5" stroke="#777" stroke-width="0.9"/>
<line x1="63" x2="63" y1="327.7" y2="332.4" stroke="#777" stroke-width="0.9"/>
<rect x="58.2" y="323.5" width="9.6" height="4.2" rx="0.3" fill="#fff" stroke="#6e6e6e" stroke-width="0.95"/>
<line x1="58.2" x2="67.8" y1="325.35" y2="325.35" stroke="#444" stroke-width="1"/>
<line x1="63" x2="63" y1="314.9" y2="318.1" stroke="#111" stroke-width="2.0" stroke-linecap="round"/>
<line x1="63" x2="63" y1="333.2" y2="337.2" stroke="#111" stroke-width="2.0" stroke-linecap="round"/>
<line x1="75.6" x2="75.6" y1="320.7" y2="323.7" stroke="#777" stroke-width="0.9"/>
<line x1="75.6" x2="75.6" y1="327.6" y2="330.9" stroke="#777" stroke-width="0.9"/>
<rect x="70.8" y="323.7" width="9.6" height="3.9" rx="0.3" fill="#fff" stroke="#6e6e6e" stroke-width="0.95"/>
<line x1="70.8" x2="80.4" y1="325.35" y2="325.35" stroke="#444" stroke-width="1"/>
<line x1="75.6" x2="75.6" y1="317.5" y2="319.9" stroke="#111" stroke-width="2.0" stroke-linecap="round"/>
<line x1="75.6" x2="75.6" y1="331.7" y2="334.8" stroke="#111" stroke-width="2.0" stroke-linecap="round"/>
<line x1="88.2" x2="88.2" y1="321.1" y2="323.8" stroke="#777" stroke-width="0.9"/>
<line x1="88.2" x2="88.2" y1="327.4" y2="330.6" stroke="#777" stroke-width="0.9"/>
<rect x="83.4" y="323.8" width="9.6" height="3.6" rx="0.3" fill="#fff" stroke="#6e6e6e" stroke-width="0.95"/>
<line x1="83.4" x2="93" y1="325.35" y2="325.35" stroke="#444" stroke-width="1"/>
<line x1="88.2" x2="88.2" y1="317.9" y2="320.3" stroke="#111" stroke-width="2.0" stroke-linecap="round"/>
<line x1="88.2" x2="88.2" y1="331.4" y2="333.8" stroke="#111" stroke-width="2.0" stroke-linecap="round"/>
<line x1="100.8" x2="100.8" y1="320.7" y2="323.8" stroke="#777" stroke-width="0.9"/>
<line x1="100.8" x2="100.8" y1="327.4" y2="330.6" stroke="#777" stroke-width="0.9"/>
<rect x="96" y="323.8" width="9.6" height="3.6" rx="0.3" fill="#fff" stroke="#6e6e6e" stroke-width="0.95"/>
<line x1="96" x2="105.6" y1="325.35" y2="325.35" stroke="#444" stroke-width="1"/>
<line x1="100.8" x2="100.8" y1="317.5" y2="319.9" stroke="#111" stroke-width="2.0" stroke-linecap="round"/>
<line x1="100.8" x2="100.8" y1="331.4" y2="333.3" stroke="#111" stroke-width="2.0" stroke-linecap="round"/>
<line x1="113.4" x2="113.4" y1="320.2" y2="323.8" stroke="#777" stroke-width="0.9"/>
<line x1="113.4" x2="113.4" y1="327.4" y2="330.8" stroke="#777" stroke-width="0.9"/>
<rect x="108.6" y="323.8" width="9.6" height="3.6" rx="0.3" fill="#fff" stroke="#6e6e6e" stroke-width="0.95"/>
<line x1="108.6" x2="118.2" y1="325.35" y2="325.35" stroke="#444" stroke-width="1"/>
<line x1="113.4" x2="113.4" y1="317.7" y2="319.4" stroke="#111" stroke-width="2.0" stroke-linecap="round"/>
<line x1="113.4" x2="113.4" y1="331.6" y2="333.5" stroke="#111" stroke-width="2.0" stroke-linecap="round"/>
<line x1="126" x2="126" y1="320.2" y2="323.1" stroke="#777" stroke-width="0.9"/>
<line x1="126" x2="126" y1="327.5" y2="331.6" stroke="#777" stroke-width="0.9"/>
<rect x="121.2" y="323.1" width="9.6" height="4.4" rx="0.3" fill="#fff" stroke="#6e6e6e" stroke-width="0.95"/>
<line x1="121.2" x2="130.8" y1="325.35" y2="325.35" stroke="#444" stroke-width="1"/>
<line x1="126" x2="126" y1="316.6" y2="319.4" stroke="#111" stroke-width="2.0" stroke-linecap="round"/>
<line x1="126" x2="126" y1="332.4" y2="335.7" stroke="#111" stroke-width="2.0" stroke-linecap="round"/>
<line x1="138.6" x2="138.6" y1="318.5" y2="322.9" stroke="#777" stroke-width="0.9"/>
<line x1="138.6" x2="138.6" y1="327.9" y2="332.7" stroke="#777" stroke-width="0.9"/>
<rect x="133.8" y="322.9" width="9.6" height="5" rx="0.3" fill="#fff" stroke="#6e6e6e" stroke-width="0.95"/>
<line x1="133.8" x2="143.4" y1="325.35" y2="325.35" stroke="#444" stroke-width="1"/>
<line x1="138.6" x2="138.6" y1="315.6" y2="317.7" stroke="#111" stroke-width="2.0" stroke-linecap="round"/>
<line x1="138.6" x2="138.6" y1="333.5" y2="337.8" stroke="#111" stroke-width="2.0" stroke-linecap="round"/>
<line x1="151.2" x2="151.2" y1="316.9" y2="322.3" stroke="#777" stroke-width="0.9"/>
<line x1="151.2" x2="151.2" y1="327.8" y2="333.7" stroke="#777" stroke-width="0.9"/>
<rect x="146.4" y="322.3" width="9.6" height="5.5" rx="0.3" fill="#fff" stroke="#6e6e6e" stroke-width="0.95"/>
<line x1="146.4" x2="156" y1="325.35" y2="325.35" stroke="#444" stroke-width="1"/>
<line x1="151.2" x2="151.2" y1="313.6" y2="316.1" stroke="#111" stroke-width="2.0" stroke-linecap="round"/>
<line x1="151.2" x2="151.2" y1="334.5" y2="339.7" stroke="#111" stroke-width="2.0" stroke-linecap="round"/>
<line x1="163.8" x2="163.8" y1="314.5" y2="321.8" stroke="#777" stroke-width="0.9"/>
<line x1="163.8" x2="163.8" y1="328.8" y2="336.5" stroke="#777" stroke-width="0.9"/>
<rect x="159" y="321.8" width="9.6" height="7" rx="0.3" fill="#fff" stroke="#6e6e6e" stroke-width="0.95"/>
<line x1="159" x2="168.6" y1="325.35" y2="325.35" stroke="#444" stroke-width="1"/>
<line x1="163.8" x2="163.8" y1="310.7" y2="313.7" stroke="#111" stroke-width="2.0" stroke-linecap="round"/>
<line x1="163.8" x2="163.8" y1="337.3" y2="343.8" stroke="#111" stroke-width="2.0" stroke-linecap="round"/>
<line x1="176.4" x2="176.4" y1="311.2" y2="320.7" stroke="#777" stroke-width="0.9"/>
<line x1="176.4" x2="176.4" y1="329.1" y2="339.7" stroke="#777" stroke-width="0.9"/>
<rect x="171.6" y="320.7" width="9.6" height="8.4" rx="0.3" fill="#fff" stroke="#6e6e6e" stroke-width="0.95"/>
<line x1="171.6" x2="181.2" y1="325.35" y2="325.35" stroke="#444" stroke-width="1"/>
<line x1="176.4" x2="176.4" y1="305.8" y2="310.4" stroke="#111" stroke-width="2.0" stroke-linecap="round"/>
<line x1="176.4" x2="176.4" y1="340.5" y2="348.7" stroke="#111" stroke-width="2.0" stroke-linecap="round"/>
<line x1="50.4" x2="176.4" y1="325.65" y2="325.65" stroke="#a82a22" stroke-width="0.8"/>
<polygon points="50.4,318.9 63,319.85 75.6,320.75 88.2,321.45 100.8,321.85 113.4,321.75 126,320.85 138.6,319.55 151.2,318.15 163.8,316.85 176.4,315.6 176.4,337 163.8,335.25 151.2,333.55 138.6,331.85 126,330.25 113.4,329.05 100.8,328.9 88.2,329.25 75.6,329.95 63,330.75 50.4,331.7" fill="#f3ef87" fill-opacity="0.22"/>
</g>
<g>
<line x1="201.8" x2="201.8" y1="314.2" y2="322.4" stroke="#777" stroke-width="0.9"/>
<line x1="201.8" x2="201.8" y1="328.6" y2="336.3" stroke="#777" stroke-width="0.9"/>
<rect x="197" y="322.4" width="9.6" height="6.2" rx="0.3" fill="#fff" stroke="#6e6e6e" stroke-width="0.95"/>
<line x1="197" x2="206.6" y1="325.35" y2="325.35" stroke="#444" stroke-width="1"/>
<line x1="201.8" x2="201.8" y1="303.6" y2="313.4" stroke="#111" stroke-width="2.0" stroke-linecap="round"/>
<line x1="201.8" x2="201.8" y1="337.1" y2="339.5" stroke="#111" stroke-width="2.0" stroke-linecap="round"/>
<circle cx="201.8" cy="299.2" r="1.0" fill="#111"/>
<line x1="214.4" x2="214.4" y1="317.2" y2="323.2" stroke="#777" stroke-width="0.9"/>
<line x1="214.4" x2="214.4" y1="328.1" y2="333.8" stroke="#777" stroke-width="0.9"/>
<rect x="209.6" y="323.2" width="9.6" height="4.9" rx="0.3" fill="#fff" stroke="#6e6e6e" stroke-width="0.95"/>
<line x1="209.6" x2="219.2" y1="325.35" y2="325.35" stroke="#444" stroke-width="1"/>
<line x1="214.4" x2="214.4" y1="309.3" y2="316.4" stroke="#111" stroke-width="2.0" stroke-linecap="round"/>
<line x1="214.4" x2="214.4" y1="334.6" y2="337.1" stroke="#111" stroke-width="2.0" stroke-linecap="round"/>
<circle cx="214.4" cy="305.8" r="1.0" fill="#111"/>
<line x1="227" x2="227" y1="319.1" y2="323.5" stroke="#777" stroke-width="0.9"/>
<line x1="227" x2="227" y1="327.8" y2="332.2" stroke="#777" stroke-width="0.9"/>
<rect x="222.2" y="323.5" width="9.6" height="4.3" rx="0.3" fill="#fff" stroke="#6e6e6e" stroke-width="0.95"/>
<line x1="222.2" x2="231.8" y1="325.35" y2="325.35" stroke="#444" stroke-width="1"/>
<line x1="227" x2="227" y1="313.4" y2="318.3" stroke="#111" stroke-width="2.0" stroke-linecap="round"/>
<line x1="227" x2="227" y1="333" y2="335.5" stroke="#111" stroke-width="2.0" stroke-linecap="round"/>
<circle cx="227" cy="310.7" r="1.0" fill="#111"/>
<line x1="239.6" x2="239.6" y1="320" y2="323.6" stroke="#777" stroke-width="0.9"/>
<line x1="239.6" x2="239.6" y1="327.6" y2="331.9" stroke="#777" stroke-width="0.9"/>
<rect x="234.8" y="323.6" width="9.6" height="4" rx="0.3" fill="#fff" stroke="#6e6e6e" stroke-width="0.95"/>
<line x1="234.8" x2="244.4" y1="325.35" y2="325.35" stroke="#444" stroke-width="1"/>
<line x1="239.6" x2="239.6" y1="315.9" y2="319.2" stroke="#111" stroke-width="2.0" stroke-linecap="round"/>
<line x1="239.6" x2="239.6" y1="332.7" y2="334.6" stroke="#111" stroke-width="2.0" stroke-linecap="round"/>
<circle cx="239.6" cy="313.8" r="1.0" fill="#111"/>
<line x1="252.2" x2="252.2" y1="319.6" y2="323.7" stroke="#777" stroke-width="0.9"/>
<line x1="252.2" x2="252.2" y1="327.5" y2="331.4" stroke="#777" stroke-width="0.9"/>
<rect x="247.4" y="323.7" width="9.6" height="3.8" rx="0.3" fill="#fff" stroke="#6e6e6e" stroke-width="0.95"/>
<line x1="247.4" x2="257" y1="325.35" y2="325.35" stroke="#444" stroke-width="1"/>
<line x1="252.2" x2="252.2" y1="315.9" y2="318.8" stroke="#111" stroke-width="2.0" stroke-linecap="round"/>
<line x1="252.2" x2="252.2" y1="332.2" y2="333.8" stroke="#111" stroke-width="2.0" stroke-linecap="round"/>
<line x1="264.8" x2="264.8" y1="319.5" y2="323.7" stroke="#777" stroke-width="0.9"/>
<line x1="264.8" x2="264.8" y1="327.5" y2="331.5" stroke="#777" stroke-width="0.9"/>
<rect x="260" y="323.7" width="9.6" height="3.8" rx="0.3" fill="#fff" stroke="#6e6e6e" stroke-width="0.95"/>
<line x1="260" x2="269.6" y1="325.35" y2="325.35" stroke="#444" stroke-width="1"/>
<line x1="264.8" x2="264.8" y1="314.8" y2="318.7" stroke="#111" stroke-width="2.0" stroke-linecap="round"/>
<line x1="264.8" x2="264.8" y1="332.3" y2="334.2" stroke="#111" stroke-width="2.0" stroke-linecap="round"/>
<line x1="277.4" x2="277.4" y1="318.4" y2="323.2" stroke="#777" stroke-width="0.9"/>
<line x1="277.4" x2="277.4" y1="327.9" y2="331.6" stroke="#777" stroke-width="0.9"/>
<rect x="272.6" y="323.2" width="9.6" height="4.7" rx="0.3" fill="#fff" stroke="#6e6e6e" stroke-width="0.95"/>
<line x1="272.6" x2="282.2" y1="325.35" y2="325.35" stroke="#444" stroke-width="1"/>
<line x1="277.4" x2="277.4" y1="312.9" y2="317.6" stroke="#111" stroke-width="2.0" stroke-linecap="round"/>
<line x1="277.4" x2="277.4" y1="332.4" y2="335.9" stroke="#111" stroke-width="2.0" stroke-linecap="round"/>
<line x1="290" x2="290" y1="316.3" y2="322.5" stroke="#777" stroke-width="0.9"/>
<line x1="290" x2="290" y1="328.5" y2="334.1" stroke="#777" stroke-width="0.9"/>
<rect x="285.2" y="322.5" width="9.6" height="6" rx="0.3" fill="#fff" stroke="#6e6e6e" stroke-width="0.95"/>
<line x1="285.2" x2="294.8" y1="325.35" y2="325.35" stroke="#444" stroke-width="1"/>
<line x1="290" x2="290" y1="308.8" y2="315.5" stroke="#111" stroke-width="2.0" stroke-linecap="round"/>
<line x1="290" x2="290" y1="334.9" y2="337.5" stroke="#111" stroke-width="2.0" stroke-linecap="round"/>
<line x1="302.6" x2="302.6" y1="314.2" y2="322" stroke="#777" stroke-width="0.9"/>
<line x1="302.6" x2="302.6" y1="328.9" y2="337.3" stroke="#777" stroke-width="0.9"/>
<rect x="297.8" y="322" width="9.6" height="6.9" rx="0.3" fill="#fff" stroke="#6e6e6e" stroke-width="0.95"/>
<line x1="297.8" x2="307.4" y1="325.35" y2="325.35" stroke="#444" stroke-width="1"/>
<line x1="302.6" x2="302.6" y1="302.5" y2="313.4" stroke="#111" stroke-width="2.0" stroke-linecap="round"/>
<line x1="302.6" x2="302.6" y1="338.1" y2="340.7" stroke="#111" stroke-width="2.0" stroke-linecap="round"/>
<circle cx="302.6" cy="298.5" r="1.0" fill="#111"/>
<line x1="315.2" x2="315.2" y1="312.1" y2="321.1" stroke="#777" stroke-width="0.9"/>
<line x1="315.2" x2="315.2" y1="330" y2="341.5" stroke="#777" stroke-width="0.9"/>
<rect x="310.4" y="321.1" width="9.6" height="8.9" rx="0.3" fill="#fff" stroke="#6e6e6e" stroke-width="0.95"/>
<line x1="310.4" x2="320" y1="325.35" y2="325.35" stroke="#444" stroke-width="1"/>
<line x1="315.2" x2="315.2" y1="297.2" y2="311.3" stroke="#111" stroke-width="2.0" stroke-linecap="round"/>
<line x1="315.2" x2="315.2" y1="342.3" y2="344.9" stroke="#111" stroke-width="2.0" stroke-linecap="round"/>
<circle cx="315.2" cy="285.5" r="1.0" fill="#111"/>
<circle cx="315.2" cy="293.9" r="1.0" fill="#111"/>
<line x1="327.8" x2="327.8" y1="306.9" y2="319.9" stroke="#777" stroke-width="0.9"/>
<line x1="327.8" x2="327.8" y1="331.6" y2="347.8" stroke="#777" stroke-width="0.9"/>
<rect x="323" y="319.9" width="9.6" height="11.7" rx="0.3" fill="#fff" stroke="#6e6e6e" stroke-width="0.95"/>
<line x1="323" x2="332.6" y1="325.35" y2="325.35" stroke="#444" stroke-width="1"/>
<line x1="327.8" x2="327.8" y1="286.8" y2="306.1" stroke="#111" stroke-width="2.0" stroke-linecap="round"/>
<line x1="327.8" x2="327.8" y1="348.6" y2="350.5" stroke="#111" stroke-width="2.0" stroke-linecap="round"/>
<circle cx="327.8" cy="271.7" r="1.0" fill="#111"/>
<circle cx="327.8" cy="283.4" r="1.0" fill="#111"/>
<line x1="201.8" x2="327.8" y1="325.65" y2="325.65" stroke="#a82a22" stroke-width="0.8"/>
<polygon points="201.8,315.9 214.4,317.55 227,318.95 239.6,320.15 252.2,320.85 264.8,320.85 277.4,319.5 290,317.25 302.6,314.6 315.2,311.45 327.8,308.3 327.8,340.5 315.2,338.05 302.6,335.6 290,333.75 277.4,332.1 264.8,330.35 252.2,330.1 239.6,331.05 227,332.35 214.4,333.85 201.8,335.7" fill="#5ba37b" fill-opacity="0.25"/>
</g>
<g>
<line x1="353.2" x2="353.2" y1="318.9" y2="323.4" stroke="#777" stroke-width="0.9"/>
<line x1="353.2" x2="353.2" y1="327.6" y2="331.6" stroke="#777" stroke-width="0.9"/>
<rect x="348.4" y="323.4" width="9.6" height="4.2" rx="0.3" fill="#fff" stroke="#6e6e6e" stroke-width="0.95"/>
<line x1="348.4" x2="358" y1="325.35" y2="325.35" stroke="#444" stroke-width="1"/>
<line x1="353.2" x2="353.2" y1="314.9" y2="318.1" stroke="#111" stroke-width="2.0" stroke-linecap="round"/>
<line x1="353.2" x2="353.2" y1="332.4" y2="334.5" stroke="#111" stroke-width="2.0" stroke-linecap="round"/>
<line x1="365.8" x2="365.8" y1="320.1" y2="323.8" stroke="#777" stroke-width="0.9"/>
<line x1="365.8" x2="365.8" y1="327.3" y2="330.6" stroke="#777" stroke-width="0.9"/>
<rect x="361" y="323.8" width="9.6" height="3.5" rx="0.3" fill="#fff" stroke="#6e6e6e" stroke-width="0.95"/>
<line x1="361" x2="370.6" y1="325.35" y2="325.35" stroke="#444" stroke-width="1"/>
<line x1="365.8" x2="365.8" y1="317" y2="319.3" stroke="#111" stroke-width="2.0" stroke-linecap="round"/>
<line x1="365.8" x2="365.8" y1="331.4" y2="333.3" stroke="#111" stroke-width="2.0" stroke-linecap="round"/>
<line x1="378.4" x2="378.4" y1="321.1" y2="323.8" stroke="#777" stroke-width="0.9"/>
<line x1="378.4" x2="378.4" y1="327.2" y2="330.1" stroke="#777" stroke-width="0.9"/>
<rect x="373.6" y="323.8" width="9.6" height="3.4" rx="0.3" fill="#fff" stroke="#6e6e6e" stroke-width="0.95"/>
<line x1="373.6" x2="383.2" y1="325.35" y2="325.35" stroke="#444" stroke-width="1"/>
<line x1="378.4" x2="378.4" y1="317.9" y2="320.3" stroke="#111" stroke-width="2.0" stroke-linecap="round"/>
<line x1="378.4" x2="378.4" y1="330.9" y2="333" stroke="#111" stroke-width="2.0" stroke-linecap="round"/>
<line x1="391" x2="391" y1="321.1" y2="323.8" stroke="#777" stroke-width="0.9"/>
<line x1="391" x2="391" y1="327.2" y2="329.7" stroke="#777" stroke-width="0.9"/>
<rect x="386.2" y="323.8" width="9.6" height="3.4" rx="0.3" fill="#fff" stroke="#6e6e6e" stroke-width="0.95"/>
<line x1="386.2" x2="395.8" y1="325.35" y2="325.35" stroke="#444" stroke-width="1"/>
<line x1="391" x2="391" y1="317.9" y2="320.3" stroke="#111" stroke-width="2.0" stroke-linecap="round"/>
<line x1="391" x2="391" y1="330.5" y2="333.3" stroke="#111" stroke-width="2.0" stroke-linecap="round"/>
<line x1="403.6" x2="403.6" y1="321.1" y2="323.8" stroke="#777" stroke-width="0.9"/>
<line x1="403.6" x2="403.6" y1="327.2" y2="329.7" stroke="#777" stroke-width="0.9"/>
<rect x="398.8" y="323.8" width="9.6" height="3.4" rx="0.3" fill="#fff" stroke="#6e6e6e" stroke-width="0.95"/>
<line x1="398.8" x2="408.4" y1="325.35" y2="325.35" stroke="#444" stroke-width="1"/>
<line x1="403.6" x2="403.6" y1="317.9" y2="320.3" stroke="#111" stroke-width="2.0" stroke-linecap="round"/>
<line x1="403.6" x2="403.6" y1="330.5" y2="333.3" stroke="#111" stroke-width="2.0" stroke-linecap="round"/>
<line x1="416.2" x2="416.2" y1="321" y2="323.8" stroke="#777" stroke-width="0.9"/>
<line x1="416.2" x2="416.2" y1="327.2" y2="330" stroke="#777" stroke-width="0.9"/>
<rect x="411.4" y="323.8" width="9.6" height="3.4" rx="0.3" fill="#fff" stroke="#6e6e6e" stroke-width="0.95"/>
<line x1="411.4" x2="421" y1="325.35" y2="325.35" stroke="#444" stroke-width="1"/>
<line x1="416.2" x2="416.2" y1="317.8" y2="320.2" stroke="#111" stroke-width="2.0" stroke-linecap="round"/>
<line x1="416.2" x2="416.2" y1="330.8" y2="333.2" stroke="#111" stroke-width="2.0" stroke-linecap="round"/>
<line x1="428.8" x2="428.8" y1="320.4" y2="323.8" stroke="#777" stroke-width="0.9"/>
<line x1="428.8" x2="428.8" y1="327.3" y2="330.6" stroke="#777" stroke-width="0.9"/>
<rect x="424" y="323.8" width="9.6" height="3.5" rx="0.3" fill="#fff" stroke="#6e6e6e" stroke-width="0.95"/>
<line x1="424" x2="433.6" y1="325.35" y2="325.35" stroke="#444" stroke-width="1"/>
<line x1="428.8" x2="428.8" y1="317" y2="319.6" stroke="#111" stroke-width="2.0" stroke-linecap="round"/>
<line x1="428.8" x2="428.8" y1="331.4" y2="333.3" stroke="#111" stroke-width="2.0" stroke-linecap="round"/>
<line x1="441.4" x2="441.4" y1="319.7" y2="323.6" stroke="#777" stroke-width="0.9"/>
<line x1="441.4" x2="441.4" y1="327.5" y2="330.9" stroke="#777" stroke-width="0.9"/>
<rect x="436.6" y="323.6" width="9.6" height="3.9" rx="0.3" fill="#fff" stroke="#6e6e6e" stroke-width="0.95"/>
<line x1="436.6" x2="446.2" y1="325.35" y2="325.35" stroke="#444" stroke-width="1"/>
<line x1="441.4" x2="441.4" y1="316" y2="318.9" stroke="#111" stroke-width="2.0" stroke-linecap="round"/>
<line x1="441.4" x2="441.4" y1="331.7" y2="334.2" stroke="#111" stroke-width="2.0" stroke-linecap="round"/>
<line x1="454" x2="454" y1="319.2" y2="323.3" stroke="#777" stroke-width="0.9"/>
<line x1="454" x2="454" y1="327.9" y2="332.1" stroke="#777" stroke-width="0.9"/>
<rect x="449.2" y="323.3" width="9.6" height="4.6" rx="0.3" fill="#fff" stroke="#6e6e6e" stroke-width="0.95"/>
<line x1="449.2" x2="458.8" y1="325.35" y2="325.35" stroke="#444" stroke-width="1"/>
<line x1="454" x2="454" y1="314.9" y2="318.4" stroke="#111" stroke-width="2.0" stroke-linecap="round"/>
<line x1="454" x2="454" y1="332.9" y2="335.3" stroke="#111" stroke-width="2.0" stroke-linecap="round"/>
<line x1="466.6" x2="466.6" y1="318.9" y2="323.2" stroke="#777" stroke-width="0.9"/>
<line x1="466.6" x2="466.6" y1="327.8" y2="333.1" stroke="#777" stroke-width="0.9"/>
<rect x="461.8" y="323.2" width="9.6" height="4.6" rx="0.3" fill="#fff" stroke="#6e6e6e" stroke-width="0.95"/>
<line x1="461.8" x2="471.4" y1="325.35" y2="325.35" stroke="#444" stroke-width="1"/>
<line x1="466.6" x2="466.6" y1="314" y2="318.1" stroke="#111" stroke-width="2.0" stroke-linecap="round"/>
<line x1="466.6" x2="466.6" y1="333.9" y2="336.8" stroke="#111" stroke-width="2.0" stroke-linecap="round"/>
<line x1="479.2" x2="479.2" y1="318.2" y2="323.1" stroke="#777" stroke-width="0.9"/>
<line x1="479.2" x2="479.2" y1="327.6" y2="333.8" stroke="#777" stroke-width="0.9"/>
<rect x="474.4" y="323.1" width="9.6" height="4.5" rx="0.3" fill="#fff" stroke="#6e6e6e" stroke-width="0.95"/>
<line x1="474.4" x2="484" y1="325.35" y2="325.35" stroke="#444" stroke-width="1"/>
<line x1="479.2" x2="479.2" y1="313" y2="317.4" stroke="#111" stroke-width="2.0" stroke-linecap="round"/>
<line x1="479.2" x2="479.2" y1="334.6" y2="338.3" stroke="#111" stroke-width="2.0" stroke-linecap="round"/>
<line x1="353.2" x2="479.2" y1="325.65" y2="325.65" stroke="#a82a22" stroke-width="0.8"/>
<polygon points="353.2,319.9 365.8,320.15 378.4,320.35 391,320.5 403.6,320.6 416.2,320.55 428.8,320.35 441.4,320.05 454,319.75 466.6,319.45 479.2,319.2 479.2,331.4 466.6,331.05 454,330.65 441.4,330.25 428.8,329.9 416.2,329.65 403.6,329.6 391,329.7 378.4,329.85 365.8,330.05 353.2,330.3" fill="#537bc3" fill-opacity="0.2"/>
</g>
<rect x="38.95" y="27.45" width="148.6" height="170.4" fill="none" stroke="#d6d6d6" stroke-width="1.3"/>
<rect x="190.35" y="27.45" width="148.6" height="170.4" fill="none" stroke="#d6d6d6" stroke-width="1.3"/>
<rect x="341.75" y="27.45" width="148.6" height="170.4" fill="none" stroke="#d6d6d6" stroke-width="1.3"/>
<rect x="38.95" y="200.35" width="148.6" height="170.4" fill="none" stroke="#d6d6d6" stroke-width="1.3"/>
<rect x="190.35" y="200.35" width="148.6" height="170.4" fill="none" stroke="#d6d6d6" stroke-width="1.3"/>
<rect x="341.75" y="200.35" width="148.6" height="170.4" fill="none" stroke="#d6d6d6" stroke-width="1.3"/>
<rect x="38.95" y="16.55" width="148.6" height="10.85" fill="#d1d2d4" stroke="#b3b3b5" stroke-width="1.1"/>
<rect x="190.35" y="16.55" width="148.6" height="10.85" fill="#d1d2d4" stroke="#b3b3b5" stroke-width="1.1"/>
<rect x="341.75" y="16.55" width="148.6" height="10.85" fill="#d1d2d4" stroke="#b3b3b5" stroke-width="1.1"/>
<rect x="490.35" y="27.45" width="10.75" height="170.4" fill="#d1d2d4" stroke="#b3b3b5" stroke-width="1.1"/>
<rect x="490.35" y="200.35" width="10.75" height="170.4" fill="#d1d2d4" stroke="#b3b3b5" stroke-width="1.1"/>
<text x="113.25" y="25.1" font-size="9.3" text-anchor="middle" fill="#2a2a2a" textLength="24.3" lengthAdjust="spacingAndGlyphs">TMLE</text>
<text x="264.65" y="25.1" font-size="9.3" text-anchor="middle" fill="#2a2a2a" textLength="22.0" lengthAdjust="spacingAndGlyphs">IPTW</text>
<text x="416.05" y="25.1" font-size="9.3" text-anchor="middle" fill="#2a2a2a" textLength="35.3" lengthAdjust="spacingAndGlyphs">G-COMP</text>
<text transform="translate(496.3,111.3) rotate(90)" x="0" y="3.2" font-size="9.4" text-anchor="middle" fill="#2a2a2a" textLength="25.8" lengthAdjust="spacingAndGlyphs">N500</text>
<text transform="translate(496.3,286.1) rotate(90)" x="0" y="3.2" font-size="9.4" text-anchor="middle" fill="#2a2a2a" textLength="28.2" lengthAdjust="spacingAndGlyphs">N1000</text>
<line x1="35" x2="38.95" y1="33.45" y2="33.45" stroke="#333" stroke-width="1"/>
<text x="30.4" y="36.95" font-size="12.3" text-anchor="end" fill="#222" textLength="15" lengthAdjust="spacingAndGlyphs">1.0</text>
<line x1="35" x2="38.95" y1="92.95" y2="92.95" stroke="#333" stroke-width="1"/>
<text x="30.4" y="96.45" font-size="12.3" text-anchor="end" fill="#222" textLength="15" lengthAdjust="spacingAndGlyphs">0.5</text>
<line x1="35" x2="38.95" y1="152.45" y2="152.45" stroke="#333" stroke-width="1"/>
<text x="30.4" y="155.95" font-size="12.3" text-anchor="end" fill="#222" textLength="15" lengthAdjust="spacingAndGlyphs">0.0</text>
<line x1="35" x2="38.95" y1="206.45" y2="206.45" stroke="#333" stroke-width="1"/>
<text x="30.4" y="209.95" font-size="12.3" text-anchor="end" fill="#222" textLength="15" lengthAdjust="spacingAndGlyphs">1.0</text>
<line x1="35" x2="38.95" y1="265.95" y2="265.95" stroke="#333" stroke-width="1"/>
<text x="30.4" y="269.45" font-size="12.3" text-anchor="end" fill="#222" textLength="15" lengthAdjust="spacingAndGlyphs">0.5</text>
<line x1="35" x2="38.95" y1="325.45" y2="325.45" stroke="#333" stroke-width="1"/>
<text x="30.4" y="328.95" font-size="12.3" text-anchor="end" fill="#222" textLength="15" lengthAdjust="spacingAndGlyphs">0.0</text>
<line x1="50.4" x2="50.4" y1="370.75" y2="374.75" stroke="#333" stroke-width="1"/>
<text x="50.4" y="387.7" font-size="12.2" text-anchor="middle" fill="#222">0</text>
<line x1="81.9" x2="81.9" y1="370.75" y2="374.75" stroke="#333" stroke-width="1"/>
<text x="81.9" y="387.7" font-size="12.2" text-anchor="middle" fill="#222">25</text>
<line x1="113.4" x2="113.4" y1="370.75" y2="374.75" stroke="#333" stroke-width="1"/>
<text x="113.4" y="387.7" font-size="12.2" text-anchor="middle" fill="#222">50</text>
<line x1="144.9" x2="144.9" y1="370.75" y2="374.75" stroke="#333" stroke-width="1"/>
<text x="144.9" y="387.7" font-size="12.2" text-anchor="middle" fill="#222">75</text>
<line x1="176.4" x2="176.4" y1="370.75" y2="374.75" stroke="#333" stroke-width="1"/>
<text x="176.4" y="387.7" font-size="12.2" text-anchor="middle" fill="#222">100</text>
<line x1="201.8" x2="201.8" y1="370.75" y2="374.75" stroke="#333" stroke-width="1"/>
<text x="201.8" y="387.7" font-size="12.2" text-anchor="middle" fill="#222">0</text>
<line x1="233.3" x2="233.3" y1="370.75" y2="374.75" stroke="#333" stroke-width="1"/>
<text x="233.3" y="387.7" font-size="12.2" text-anchor="middle" fill="#222">25</text>
<line x1="264.8" x2="264.8" y1="370.75" y2="374.75" stroke="#333" stroke-width="1"/>
<text x="264.8" y="387.7" font-size="12.2" text-anchor="middle" fill="#222">50</text>
<line x1="296.3" x2="296.3" y1="370.75" y2="374.75" stroke="#333" stroke-width="1"/>
<text x="296.3" y="387.7" font-size="12.2" text-anchor="middle" fill="#222">75</text>
<line x1="327.8" x2="327.8" y1="370.75" y2="374.75" stroke="#333" stroke-width="1"/>
<text x="327.8" y="387.7" font-size="12.2" text-anchor="middle" fill="#222">100</text>
<line x1="353.2" x2="353.2" y1="370.75" y2="374.75" stroke="#333" stroke-width="1"/>
<text x="353.2" y="387.7" font-size="12.2" text-anchor="middle" fill="#222">0</text>
<line x1="384.7" x2="384.7" y1="370.75" y2="374.75" stroke="#333" stroke-width="1"/>
<text x="384.7" y="387.7" font-size="12.2" text-anchor="middle" fill="#222">25</text>
<line x1="416.2" x2="416.2" y1="370.75" y2="374.75" stroke="#333" stroke-width="1"/>
<text x="416.2" y="387.7" font-size="12.2" text-anchor="middle" fill="#222">50</text>
<line x1="447.7" x2="447.7" y1="370.75" y2="374.75" stroke="#333" stroke-width="1"/>
<text x="447.7" y="387.7" font-size="12.2" text-anchor="middle" fill="#222">75</text>
<line x1="479.2" x2="479.2" y1="370.75" y2="374.75" stroke="#333" stroke-width="1"/>
<text x="479.2" y="387.7" font-size="12.2" text-anchor="middle" fill="#222">100</text>
<text x="264.6" y="406.9" font-size="12.3" text-anchor="middle" fill="#222" textLength="53.5" lengthAdjust="spacingAndGlyphs">% Treated</text>
<g transform="translate(8.4,177.2) rotate(-90)"><text x="0" y="0" font-size="12.8" text-anchor="middle" fill="#222" textLength="49.5" lengthAdjust="spacingAndGlyphs"><tspan font-style="italic">ψ</tspan><tspan font-size="9" font-style="italic" dy="2.2">N</tspan><tspan dy="-0.8"> − </tspan><tspan font-style="italic" dy="-1.4">ψ</tspan><tspan font-size="9" dy="2.2">0</tspan></text></g>
<text y="11.1" font-size="12.6" fill="#222"><tspan x="201.3" textLength="15.5" lengthAdjust="spacingAndGlyphs">(a)</tspan><tspan x="221.0" font-style="italic">Q</tspan><tspan x="235.8" textLength="19.4" lengthAdjust="spacingAndGlyphs">and</tspan><tspan x="259.8" font-style="italic">g</tspan><tspan x="268.3" font-size="9.5" dy="-1.8">*</tspan><tspan x="273.0" dy="1.8" font-size="13.5">/</tspan><tspan x="278.2" font-style="italic">g</tspan><tspan x="289.6" textLength="38.2" lengthAdjust="spacingAndGlyphs">correct</tspan></text>
<line x1="262.2" x2="268.4" y1="2.5" y2="2.5" stroke="#333" stroke-width="0.75"/>
<line x1="280.4" x2="286.6" y1="2.5" y2="2.5" stroke="#333" stroke-width="0.75"/>
<rect x="201.3" y="415.8" width="12.9" height="13.5" fill="#fcfbdf" stroke="#eeeccb" stroke-width="0.8"/>
<text x="216.3" y="425.9" font-size="11.4" fill="#222" textLength="30.3" lengthAdjust="spacingAndGlyphs">TMLE</text>
<rect x="255.3" y="415.8" width="12.9" height="13.5" fill="#d6e8e0" stroke="#c8ddd2" stroke-width="0.8"/>
<text x="270.3" y="425.9" font-size="11.4" fill="#222" textLength="29.0" lengthAdjust="spacingAndGlyphs">IPTW</text>
<rect x="308.1" y="415.8" width="12.9" height="13.5" fill="#d4def0" stroke="#c6d1e6" stroke-width="0.8"/>
<text x="322.9" y="425.9" font-size="11.4" fill="#222" textLength="44" lengthAdjust="spacingAndGlyphs">G-COMP</text>
</svg>
</body></html>
